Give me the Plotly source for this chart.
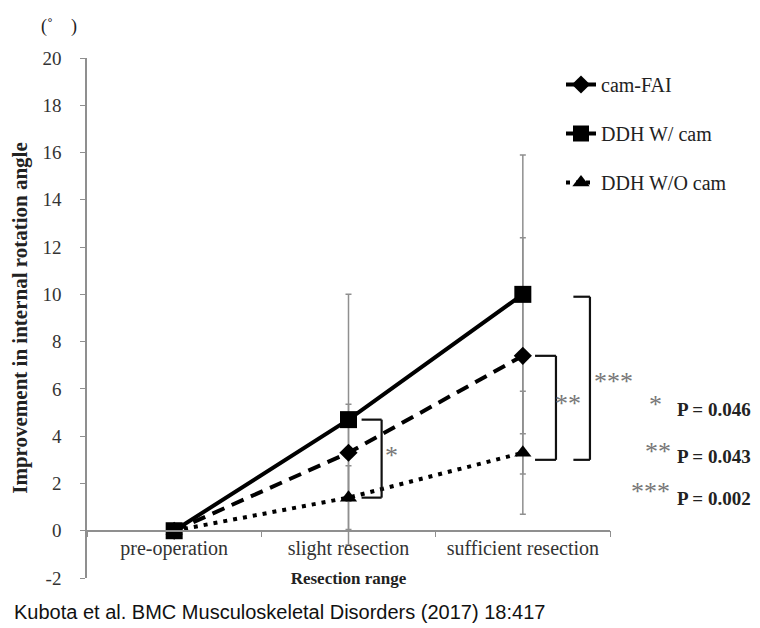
import plotly.graph_objects as go

categories = ["pre-operation", "slight resection", "sufficient resection"]
cam_fai = [0, 3.3, 7.4]
ddh_w_cam = [0, 4.7, 10.0]
ddh_wo_cam = [0, 1.4, 3.3]
cam_fai_sd = [0, 2.05, 5.0]
ddh_w_cam_sd = [0, 5.3, 5.9]
ddh_wo_cam_sd = [0, 1.35, 2.6]
series_names = ["cam-FAI", "DDH W/ cam", "DDH W/O cam"]
y_ticks = list(range(-2, 21, 2))
y_ticktext = [str(v) for v in y_ticks]
p_labels = ["P = 0.046", "P = 0.043", "P = 0.002"]
stars = ["*", "**", "***"]

SERIF = "Liberation Serif"
GRAY = "#8f8f8f"

fig = go.Figure()

# error bars first (behind lines and markers)
for vals, sd in [(cam_fai, cam_fai_sd), (ddh_w_cam, ddh_w_cam_sd), (ddh_wo_cam, ddh_wo_cam_sd)]:
    fig.add_trace(go.Scatter(
        x=categories, y=vals, mode="markers", showlegend=False, hoverinfo="skip",
        marker=dict(size=1, color="rgba(0,0,0,0)"),
        error_y=dict(type="data", array=sd, color=GRAY, thickness=1.5, width=3),
    ))

fig.add_trace(go.Scatter(
    x=categories, y=cam_fai, name=series_names[0], mode="lines+markers",
    legendgroup="a",
    line=dict(color="black", width=4, dash="13px,8px"),
    marker=dict(symbol="diamond", size=14, color="black"),
))
fig.add_trace(go.Scatter(
    x=categories, y=ddh_w_cam, name=series_names[1], mode="lines+markers",
    legendgroup="b",
    line=dict(color="black", width=4),
    marker=dict(symbol="square", size=17, color="black"),
))
fig.add_trace(go.Scatter(
    x=categories, y=ddh_wo_cam, name=series_names[2], mode="lines+markers",
    legendgroup="c",
    line=dict(color="black", width=4, dash="4px,6px"),
    marker=dict(symbol="triangle-up", size=15, color="black"),
))

# significance brackets
brackets = [
    (1.075, 1.19, ddh_w_cam[1], ddh_wo_cam[1]),
    (2.07, 2.19, cam_fai[2], ddh_wo_cam[2] - 0.3),
    (2.29, 2.385, ddh_w_cam[2] - 0.1, ddh_wo_cam[2] - 0.3),
]
shapes = []
for xa, xb, ytop, ybot in brackets:
    for (x0, y0, x1, y1) in [(xa, ytop, xb, ytop), (xb, ytop, xb, ybot), (xb, ybot, xa, ybot)]:
        shapes.append(dict(type="line", xref="x", yref="y", x0=x0, y0=y0, x1=x1, y1=y1,
                           line=dict(color="#111", width=2.2)))

W, H = 760, 628
L, R, T, B = 79, 158, 50, 58
pw, ph = W - L - R, H - T - B
def px(xp):
    return (xp - L) / pw
def py(yp):
    return (H - B - yp) / ph

annotations = []
star_pos = [(px(383), py(447)), (px(560), py(395)), (px(605), py(373))]
for s, (sx, sy) in zip(stars, star_pos):
    annotations.append(dict(x=sx, y=sy, xref="paper", yref="paper", text=s, showarrow=False,
                            font=dict(family=SERIF, size=26, color="#777"),
                            xanchor="center", yanchor="middle"))

# P-value key
key_star_x = [647, 650, 642]
key_star_y = [396, 443, 483]
key_p_y = [401, 448, 490]
for s, p, xs, ys, yp in zip(stars, p_labels, key_star_x, key_star_y, key_p_y):
    annotations.append(dict(x=px(xs), y=py(ys), xref="paper", yref="paper", text=s,
                            showarrow=False, xanchor="center", yanchor="middle",
                            font=dict(family=SERIF, size=26, color="#777")))
    annotations.append(dict(x=px(667), y=py(yp), xref="paper", yref="paper",
                            text="<b>" + p + "</b>", showarrow=False,
                            xanchor="left", yanchor="middle",
                            font=dict(family=SERIF, size=19, color="#222")))

annotations.append(dict(x=px(51), y=py(18), xref="paper", yref="paper",
                        text="(˚&nbsp;&nbsp;&nbsp;&nbsp;)",
                        showarrow=False, xanchor="center", yanchor="middle",
                        font=dict(family=SERIF, size=18, color="#222")))
annotations.append(dict(x=px(4), y=py(604), xref="paper", yref="paper",
                        text="Kubota et al. BMC Musculoskeletal Disorders (2017) 18:417",
                        showarrow=False, xanchor="left", yanchor="middle",
                        font=dict(family="Liberation Sans", size=20, color="#111")))

fig.update_layout(
    width=W, height=H,
    margin=dict(l=L, r=R, t=T, b=B),
    paper_bgcolor="white", plot_bgcolor="white",
    font=dict(family=SERIF, color="#222"),
    showlegend=True,
    legend=dict(x=px(553), y=py(57), xanchor="left", yanchor="top",
                font=dict(family=SERIF, size=20, color="#222"),
                tracegroupgap=20, bgcolor="rgba(0,0,0,0)", itemwidth=30),
    shapes=shapes,
    annotations=annotations,
    xaxis=dict(
        type="category", range=[-0.5, 2.5], anchor="free", position=2 / 22,
        showline=True, linecolor=GRAY, linewidth=1.5,
        ticks="outside", tickson="boundaries", ticklen=6, tickcolor=GRAY,
        showgrid=False, zeroline=False,
        tickfont=dict(family=SERIF, size=20, color="#333"),
        title=dict(text="<b>Resection range</b>", font=dict(family=SERIF, size=17, color="#222"),
                   standoff=12),
        automargin=False,
    ),
    yaxis=dict(
        range=[-2, 20], tickvals=y_ticks, ticktext=y_ticktext, showline=True, linecolor=GRAY,
        linewidth=1.5, ticks="outside", ticklen=5, tickcolor=GRAY, showgrid=False,
        zeroline=False, ticklabelstandoff=15,
        tickfont=dict(family=SERIF, size=19, color="#333"),
        title=dict(text="<b>Improvement in internal rotation angle</b>",
                   font=dict(family=SERIF, size=21, color="#222"), standoff=16),
        automargin=False,
    ),
)

fig.write_html("out.html")
